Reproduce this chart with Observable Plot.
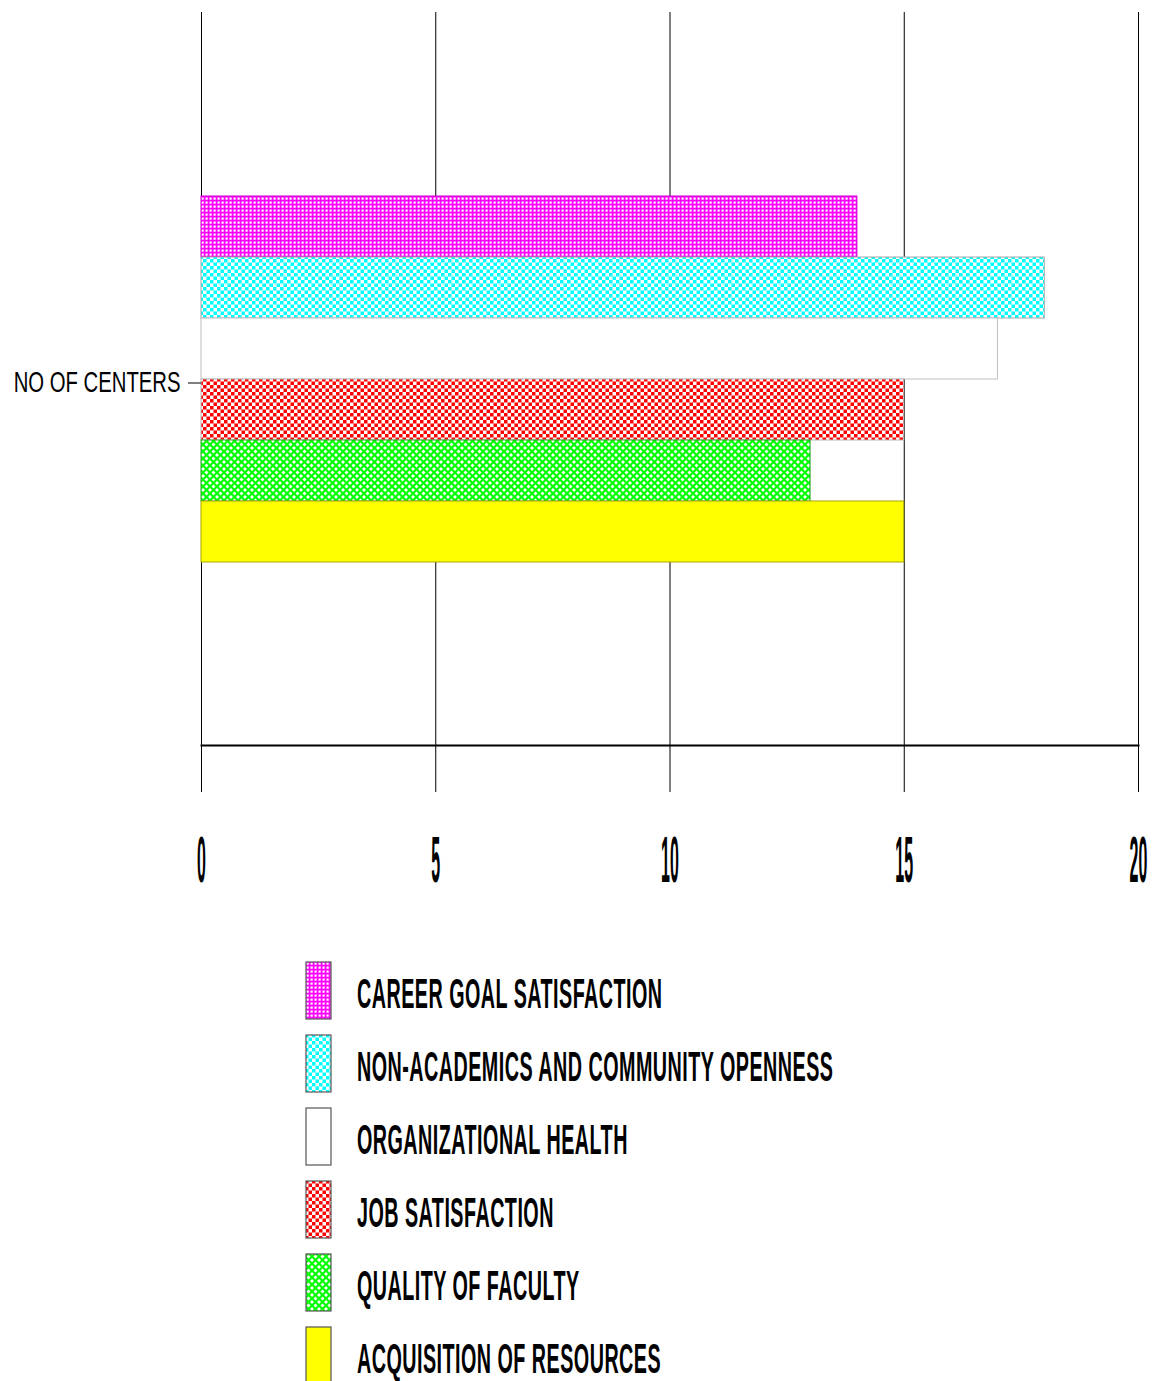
<!DOCTYPE html>
<html><head><meta charset="utf-8">
<script src="https://cdn.jsdelivr.net/npm/d3@7"></script>
<script src="https://cdn.jsdelivr.net/npm/@observablehq/plot@0.6"></script>
<style>
body{margin:0;background:#fff;font-family:"Liberation Sans",Arial,sans-serif;}
#chart svg{display:block}
#legend{margin-left:305px;margin-top:44px}
.row{display:flex;align-items:center;height:73px}
.row svg{display:block;flex:none}
.row span{font-weight:bold;font-size:42px;margin-left:25px;transform:scaleX(0.47);transform-origin:left center;white-space:nowrap;display:inline-block;color:#000;letter-spacing:1px;position:relative;top:3px}
</style></head><body><div id="chart"></div><div id="legend"></div>
<script>
const category = "NO OF CENTERS";
const series = ["CAREER GOAL SATISFACTION","NON-ACADEMICS AND COMMUNITY OPENNESS","ORGANIZATIONAL HEALTH","JOB SATISFACTION","QUALITY OF FACULTY","ACQUISITION OF RESOURCES"];
const values = [14, 18, 17, 15, 13, 15];
const xTicks = [0, 5, 10, 15, 20];
const fills = ["url(#p-magenta)", "url(#p-cyan)", "#ffffff", "url(#p-red)", "url(#p-green)", "#ffff00"];
const strokes = ["#d000d0", "#a8a8a8", "#c0c0c0", "#b8b8b8", "#30a030", "#a8a800"];

const rows = series.map((s, i) => ({category, series: s, value: values[i], fill: fills[i], stroke: strokes[i]}));

const H = 910;
const chart = Plot.plot({
  width: 1169, height: H,
  marginLeft: 201, marginRight: 31, marginTop: 12, marginBottom: H - 745,
  style: {fontFamily: "Liberation Sans, Arial, sans-serif", background: "#fff", color: "#000"},
  x: {domain: [0, 20], label: null},
  y: {domain: series, axis: null, paddingInner: 0, paddingOuter: 3},
  fy: {domain: [category], padding: 0, label: null},
  color: {type: "identity"},
  marks: [
    Plot.gridX(xTicks, {stroke: "#000", strokeOpacity: 1, strokeWidth: 1}),
    Plot.barX(rows, {x: "value", y: "series", fy: "category", fill: "fill", stroke: "stroke", strokeWidth: 1}),
    Plot.axisX(xTicks, {tickSize: 47, tickPadding: 44, fontSize: 64, fontWeight: "bold", label: null, stroke: "#000", tickFormat: d => String(d)}),
    Plot.axisFy({anchor: "left", tickSize: 13, tickPadding: 8, fontSize: 29, label: null, dy: 4}),
    Plot.frame({anchor: "bottom", stroke: "#000", strokeWidth: 2})
  ]
});
document.getElementById("chart").appendChild(chart);

const svg = d3.select(chart);
const defs = svg.insert("defs", ":first-child");
function pat(id, size) {
  return defs.append("pattern").attr("id", id).attr("patternUnits", "userSpaceOnUse")
    .attr("width", size).attr("height", size);
}
// magenta fine grid
let p = pat("p-magenta", 4);
p.append("rect").attr("width", 4).attr("height", 4).attr("fill", "#ff00ff");
p.append("rect").attr("x", 1.5).attr("y", 1.5).attr("width", 2.2).attr("height", 2.2).attr("fill", "#ffffff");
// cyan checker
p = pat("p-cyan", 7);
p.append("rect").attr("width", 7).attr("height", 7).attr("fill", "#ffffff");
p.append("rect").attr("width", 3.5).attr("height", 3.5).attr("fill", "#00ffff");
p.append("rect").attr("x", 3.5).attr("y", 3.5).attr("width", 3.5).attr("height", 3.5).attr("fill", "#00ffff");
// red checker
p = pat("p-red", 7);
p.append("rect").attr("width", 7).attr("height", 7).attr("fill", "#ffffff");
p.append("rect").attr("width", 3.5).attr("height", 3.5).attr("fill", "#ff0000");
p.append("rect").attr("x", 3.5).attr("y", 3.5).attr("width", 3.5).attr("height", 3.5).attr("fill", "#ff0000");
// green lattice with white diamonds
p = pat("p-green", 7);
p.append("rect").attr("width", 7).attr("height", 7).attr("fill", "#00ff00");
for (const [cx, cy] of [[0,0],[7,0],[0,7],[7,7],[3.5,3.5]]) {
  p.append("path").attr("d", `M${cx-2},${cy}L${cx},${cy-2}L${cx+2},${cy}L${cx},${cy+2}Z`).attr("fill", "#ffffff");
}

// condense axis text horizontally
function condense(sel, k) {
  sel.each(function() {
    const t = this.getAttribute("transform") || "";
    this.setAttribute("transform", (t + ` scale(${k},1)`).trim());
  });
}
condense(svg.selectAll('g[aria-label="x-axis tick label"] text'), 0.25);
condense(svg.selectAll('g[aria-label="fy-axis tick label"] text'), 0.7);

// legend
const legend = d3.select("#legend");
series.forEach((s, i) => {
  const row = legend.append("div").attr("class", "row");
  const sw = row.append("svg").attr("width", 27).attr("height", 59);
  sw.append("rect").attr("x", 1).attr("y", 1).attr("width", 25).attr("height", 57)
    .attr("fill", fills[i]).attr("stroke", "#555").attr("stroke-width", 1.2);
  row.append("span").text(s);
});
</script></body></html>
